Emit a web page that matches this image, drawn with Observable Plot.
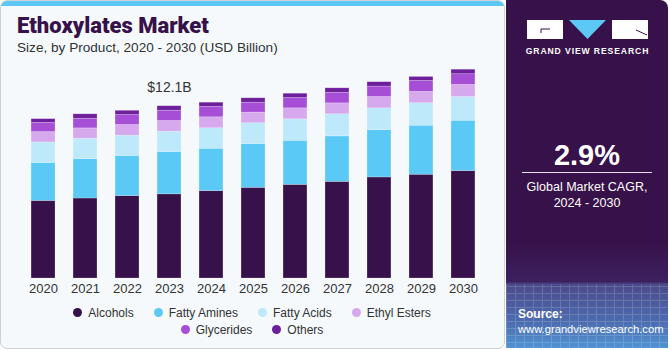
<!DOCTYPE html>
<html><head><meta charset="utf-8">
<script src="https://cdn.jsdelivr.net/npm/d3@7"></script>
<script src="https://cdn.jsdelivr.net/npm/@observablehq/plot@0.6"></script>
<style>
body{margin:0;background:#fff;font-family:"Liberation Sans",Arial,sans-serif;}
#wrap{position:relative;width:670px;height:350px;overflow:hidden;}
#card{position:absolute;left:0;top:0;width:503px;height:347px;border:1px solid #cfd3d6;border-radius:7px;background:#f5f9fc;overflow:hidden;}
#strip{position:absolute;left:0;top:0;width:100%;height:5px;background:#5bc8f5;}
#title{position:absolute;left:17px;top:13px;font-family:Roboto,"Liberation Sans",sans-serif;font-weight:900;font-size:22px;color:#371149;white-space:nowrap;}
#sub{position:absolute;left:17px;top:40px;font-size:13.6px;color:#333;white-space:nowrap;}
#chart{position:absolute;left:0;top:0;}
#legend{position:absolute;left:0;top:304px;width:504px;font-size:12px;color:#333;}
.row{display:flex;justify-content:center;gap:20px;height:17px;align-items:center;}
.item{display:flex;align-items:center;gap:6px;white-space:nowrap;}
.dot{width:9px;height:9px;border-radius:50%;}
#panel{position:absolute;left:506px;top:0;width:162px;height:348px;border-radius:0 8px 0 0;background:linear-gradient(to bottom,#371149 0px,#371149 240px,#3d2060 282px,#4a4a8a 284px,#4d6aae 320px,#5296d6 350px);overflow:hidden;}
#grid{position:absolute;left:0;top:284px;width:100%;height:66px;opacity:0.16;background-image:repeating-linear-gradient(0deg,#fff 0 1px,transparent 1px 7px),repeating-linear-gradient(90deg,#fff 0 1px,transparent 1px 9px);}
.pt{position:absolute;left:0;width:100%;text-align:center;color:#fff;}
</style></head>
<body>
<div id="wrap">
  <div id="card"><div id="strip"></div></div>
  <div id="title">Ethoxylates Market</div>
  <div id="sub">Size, by Product, 2020 - 2030 (USD Billion)</div>
  <div id="chart"></div>
  <div id="legend"></div>
  <div id="panel">
    <div id="grid"></div>
    <svg style="position:absolute;left:0;top:0" width="162" height="60">
      <rect x="21" y="20" width="36" height="19" fill="#fff"/>
      <path d="M35 29 L35 33 M35 29 L44 29" stroke="#371149" stroke-width="1" fill="none"/>
      <polygon points="63,20 100,20 81.5,39" fill="#5bc8f5"/>
      <rect x="106" y="20" width="36" height="19" fill="#fff"/>
      <path d="M130 30 L141 35" stroke="#371149" stroke-width="1" fill="none"/>
      <text x="81.5" y="54" text-anchor="middle" fill="#fff" font-family="'Liberation Sans',Arial,sans-serif" font-weight="700" font-size="8.6" letter-spacing="0.9">GRAND VIEW RESEARCH</text>
    </svg>
    <div class="pt" style="top:139px;font-size:29px;font-weight:700;">2.9%</div>
    <div style="position:absolute;left:16px;top:172px;width:130px;height:1px;background:#e6e0ee;"></div>
    <div class="pt" style="top:179px;font-size:12.5px;line-height:16px;">Global Market CAGR,<br>2024 - 2030</div>
    <div style="position:absolute;left:12px;top:307px;color:#fff;font-size:11.2px;line-height:15px;white-space:nowrap;"><b style="font-size:12px">Source:</b><br>www.grandviewresearch.com</div>
  </div>
</div>
<script>
const years = ["2020","2021","2022","2023","2024","2025","2026","2027","2028","2029","2030"];
const seriesNames = ["Alcohols","Fatty Amines","Fatty Acids","Ethyl Esters","Glycerides","Others"];
const seriesColors = ["#371149","#5bc9f5","#bde9fa","#d6a9ee","#a64fd6","#6e1f9b"];
const alcohols    = [5.46,5.63,5.80,5.92,6.15,6.38,6.59,6.80,7.11,7.30,7.56];
const fattyAmines = [2.67,2.77,2.82,2.98,2.98,3.08,3.10,3.20,3.33,3.45,3.54];
const fattyAcids  = [1.44,1.43,1.43,1.43,1.44,1.46,1.51,1.55,1.53,1.58,1.67];
const ethylEsters = [0.73,0.73,0.75,0.75,0.77,0.75,0.77,0.77,0.80,0.80,0.85];
const glycerides  = [0.65,0.68,0.70,0.73,0.73,0.70,0.73,0.75,0.73,0.77,0.75];
const others      = [0.26,0.31,0.30,0.31,0.30,0.31,0.30,0.31,0.31,0.28,0.32];
const annotYear = ["2023"];
const annotText = ["$12.1B"];

const seriesValues = [alcohols, fattyAmines, fattyAcids, ethylEsters, glycerides, others];
const data = [];
seriesNames.forEach((s, i) => years.forEach((y, j) => data.push({year: y, series: s, value: seriesValues[i][j]})));
const totals = years.map((y, j) => seriesValues.reduce((a, arr) => a + arr[j], 0));
const annot = annotYear.map((y, k) => ({year: y, total: totals[years.indexOf(y)], text: annotText[k]}));

const chart = Plot.plot({
  width: 506, height: 300,
  marginLeft: 13, marginRight: 13, marginTop: 79, marginBottom: 22,
  style: {fontFamily: "'Liberation Sans',Arial,sans-serif", fontSize: "13px", color: "#333", background: "transparent", overflow: "visible"},
  x: {domain: years, padding: 0.43, round: false, tickSize: 0, tickPadding: 5, label: null},
  y: {domain: [0, 14], axis: null},
  color: {domain: seriesNames, range: seriesColors},
  marks: [
    Plot.barY(data, {x: "year", y: "value", fill: "series", stroke: "#ffffff", strokeOpacity: 0.35, strokeWidth: 0.6}),
    Plot.text(annot, {x: "year", y: "total", text: "text", dy: -19, fontSize: 14, fill: "#333"})
  ]
});
document.getElementById("chart").appendChild(chart);

const legend = document.getElementById("legend");
[[0,1,2,3],[4,5]].forEach(idx => {
  const row = document.createElement("div"); row.className = "row";
  idx.forEach(i => {
    const it = document.createElement("div"); it.className = "item";
    it.innerHTML = `<span class="dot" style="background:${seriesColors[i]}"></span><span>${seriesNames[i]}</span>`;
    row.appendChild(it);
  });
  legend.appendChild(row);
});
</script>
</body></html>
